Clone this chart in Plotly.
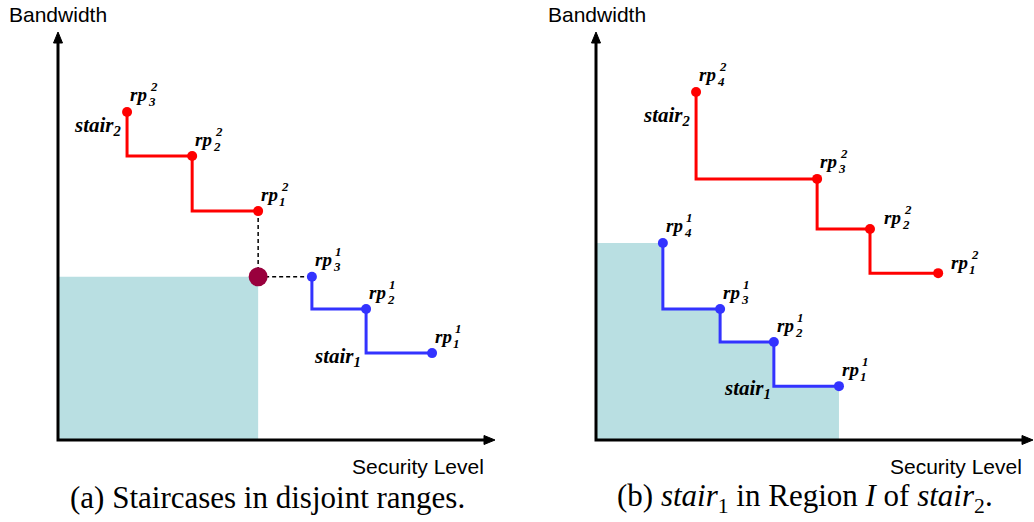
import plotly.graph_objects as go

# ---------------- data (units: 0-100 along each drawn axis) ----------------
# Panel (a): staircases in disjoint ranges
a_stair2_x = [15.8, 30.7, 45.8]
a_stair2_y = [80.4, 69.6, 56.1]
a_stair1_x = [58.1, 70.5, 85.6]
a_stair1_y = [40.0, 32.1, 21.3]

# Panel (b): stair1 in Region I of stair2
b_stair2_x = [22.9, 50.6, 62.7, 78.3]
b_stair2_y = [85.3, 64.0, 51.7, 40.9]
b_stair1_x = [15.3, 28.4, 40.7, 55.6]
b_stair1_y = [48.3, 32.1, 24.0, 13.2]

x_title = "Security Level"
y_title = "Bandwidth"
captions = ["(a) Staircases in disjoint ranges.",
            "(b) <i>stair</i><sub>1</sub> in Region <i>I</i> of <i>stair</i><sub>2</sub>."]

# ---------------- styles ----------------
W, H = 1034, 522
RED = "#ff0000"
BLUE = "#3333ff"
SHADE = "#b9dfe2"
MEET = "#99003d"
SERIF = "Liberation Serif"
SANS = "Liberation Sans"

fig = go.Figure()

# pixel geometry of each panel: x of origin / arrow tip; y of origin / arrow tip
panels = {
    "a": dict(xa="x", ya="y", xk="xaxis", yk="yaxis", x0=58, x1=495),
    "b": dict(xa="x2", ya="y2", xk="xaxis2", yk="yaxis2", x0=596, x1=1033),
}
PY0, PY1 = 440, 32

annotations = []
shapes = []

def lab(p, x, y, text, size, xshift, yshift, xanchor="left"):
    annotations.append(dict(
        xref=p["xa"], yref=p["ya"], x=x, y=y, text="<b><i>" + text + "</i></b>", showarrow=False,
        xanchor=xanchor, yanchor="middle", xshift=xshift, yshift=yshift,
        font=dict(family=SERIF, size=size, color="black"),
    ))

def rp_labels(p, xs, ys, stair_no, extra=None):
    n = len(xs)
    extra = extra or {}
    for i, (x, y) in enumerate(zip(xs, ys)):
        idx = n - i
        dx, dy = extra.get(idx, (0, 0))
        lab(p, x, y, "rp", 19, 1 + dx, 17 + dy)
        lab(p, x, y, str(stair_no), 13, 21 + dx, 25 + dy)
        lab(p, x, y, str(idx), 13, 19 + dx, 10 + dy)

def stair_trace(p, xs, ys, color):
    fig.add_trace(go.Scatter(
        x=xs, y=ys, mode="lines+markers", xaxis=p["xa"], yaxis=p["ya"],
        line=dict(color=color, width=3, shape="vh"),
        marker=dict(color=color, size=10), hoverinfo="skip", showlegend=False))

def axes_arrows(p):
    px_x = 100.0 / (p["x1"] - p["x0"])   # axis units per pixel, horizontal
    px_y = 100.0 / (PY0 - PY1)           # axis units per pixel, vertical
    L, hw = 11, 4.5                      # arrowhead length / half width in px
    shapes.append(dict(type="path", xref=p["xa"], yref=p["ya"], layer="above",
                       path=f"M 0,{100 - L * px_y} L 0,0 L {100 - L * px_x},0",
                       line=dict(color="black", width=3)))
    shapes.append(dict(type="path", xref=p["xa"], yref=p["ya"], layer="above",
                       path=f"M 100,0 L {100 - L * px_x},{hw * px_y} L {100 - L * px_x},{-hw * px_y} Z",
                       line=dict(color="black", width=1), fillcolor="black"))
    shapes.append(dict(type="path", xref=p["xa"], yref=p["ya"], layer="above",
                       path=f"M 0,100 L {hw * px_x},{100 - L * px_y} L {-hw * px_x},{100 - L * px_y} Z",
                       line=dict(color="black", width=1), fillcolor="black"))

# ---- panel (a)
pa = panels["a"]
meet_x, meet_y = a_stair2_x[-1], a_stair1_y[0]
fig.add_trace(go.Scatter(x=[0, meet_x], y=[meet_y, meet_y], mode="lines", xaxis="x", yaxis="y",
                         line=dict(width=0), fill="tozeroy", fillcolor=SHADE,
                         hoverinfo="skip", showlegend=False))
fig.add_trace(go.Scatter(x=[meet_x, meet_x, None, meet_x, a_stair1_x[0]],
                         y=[a_stair2_y[-1], meet_y, None, meet_y, meet_y],
                         mode="lines", xaxis="x", yaxis="y",
                         line=dict(color="black", width=1.5, dash="4px,3px"),
                         hoverinfo="skip", showlegend=False))
stair_trace(pa, a_stair2_x, a_stair2_y, RED)
stair_trace(pa, a_stair1_x, a_stair1_y, BLUE)
fig.add_trace(go.Scatter(x=[meet_x], y=[meet_y], mode="markers", xaxis="x", yaxis="y",
                         marker=dict(color=MEET, size=19), hoverinfo="skip", showlegend=False))
rp_labels(pa, a_stair2_x, a_stair2_y, 2)
rp_labels(pa, a_stair1_x, a_stair1_y, 1)
lab(pa, a_stair2_x[0], a_stair2_y[0], "stair<sub>2</sub>", 21, -4, -14, xanchor="right")
lab(pa, a_stair1_x[-2], a_stair1_y[-1], "stair<sub>1</sub>", 21, -3, -4, xanchor="right")
axes_arrows(pa)

# ---- panel (b)
pb = panels["b"]
fig.add_trace(go.Scatter(x=[0] + b_stair1_x, y=[b_stair1_y[0]] + b_stair1_y, mode="lines",
                         xaxis="x2", yaxis="y2", line=dict(width=0, shape="vh"),
                         fill="tozeroy", fillcolor=SHADE, hoverinfo="skip", showlegend=False))
stair_trace(pb, b_stair2_x, b_stair2_y, RED)
stair_trace(pb, b_stair1_x, b_stair1_y, BLUE)
rp_labels(pb, b_stair2_x, b_stair2_y, 2, extra={2: (11, -5), 1: (10, -6)})
rp_labels(pb, b_stair1_x, b_stair1_y, 1)
lab(pb, b_stair2_x[0], b_stair2_y[0], "stair<sub>2</sub>", 21, -4, -24, xanchor="right")
lab(pb, b_stair1_x[-2], b_stair1_y[-1], "stair<sub>1</sub>", 21, -1, -3, xanchor="right")
axes_arrows(pb)

# ---- axis titles and captions (paper coordinates)
def paper_text(px, py, text, size, family, xanchor):
    annotations.append(dict(xref="paper", yref="paper", x=px / W, y=1 - py / H, text=text,
                            showarrow=False, xanchor=xanchor, yanchor="middle",
                            font=dict(family=family, size=size, color="black")))

paper_text(7, 14, y_title, 21, SANS, "left")
paper_text(546, 14, y_title, 21, SANS, "left")
paper_text(486, 466, x_title, 21, SANS, "right")
paper_text(1024, 466, x_title, 21, SANS, "right")
paper_text(267, 497, captions[0], 31, SERIF, "center")
paper_text(805, 498, captions[1], 31, SERIF, "center")

# axes: invisible, with a little padding around 0..100 so that the frame is not clipped
layout_axes = {}
for p in panels.values():
    ux = (p["x1"] - p["x0"]) / 100.0   # px per unit
    uy = (PY0 - PY1) / 100.0
    pad_lo_x = 3.0
    pad_hi_x = min(3.0, (W - p["x1"]) / ux)
    pad_y = 3.0
    layout_axes[p["xk"]] = dict(
        visible=False, fixedrange=True, range=[-pad_lo_x, 100 + pad_hi_x], anchor=p["ya"],
        domain=[(p["x0"] - pad_lo_x * ux) / W, min(1.0, (p["x1"] + pad_hi_x * ux) / W)])
    layout_axes[p["yk"]] = dict(
        visible=False, fixedrange=True, range=[-pad_y, 100 + pad_y], anchor=p["xa"],
        domain=[1 - (PY0 + pad_y * uy) / H, 1 - (PY1 - pad_y * uy) / H])

fig.update_layout(
    width=W, height=H, margin=dict(l=0, r=0, t=0, b=0),
    paper_bgcolor="white", plot_bgcolor="rgba(0,0,0,0)", showlegend=False,
    annotations=annotations,
    shapes=shapes,
    **layout_axes,
)

fig.write_html("out.html")
